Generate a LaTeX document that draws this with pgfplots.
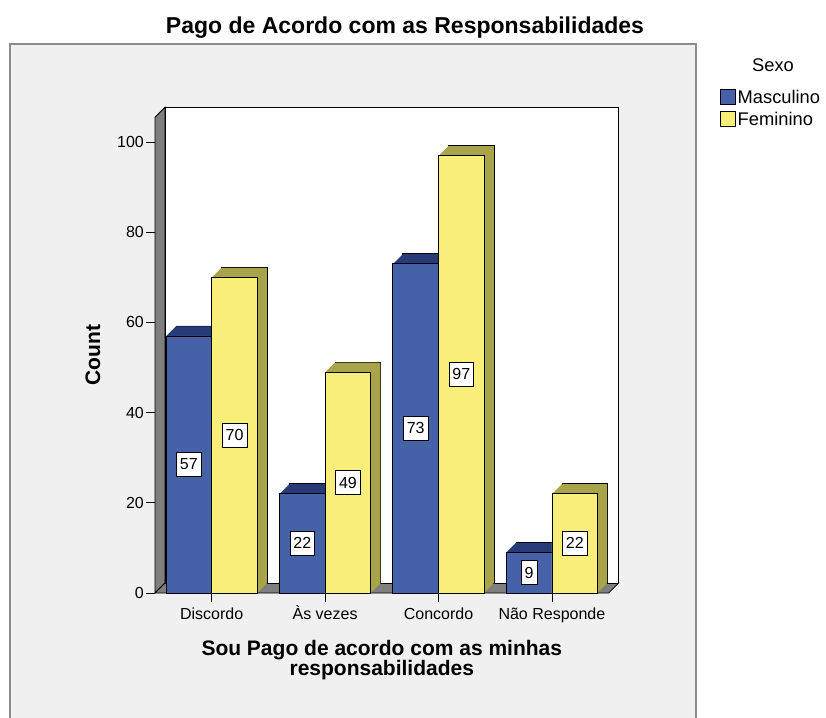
\documentclass[border=0pt]{standalone}
\usepackage{fontspec}
\setmainfont{Liberation Sans}
\usepackage{pgfplots}
\usepackage{pgfplotstable}
\pgfplotsset{compat=1.18}
\definecolor{blueF}{HTML}{4561A8}
\definecolor{blueD}{HTML}{263B78}
\definecolor{yellowF}{HTML}{F9EE7A}
\definecolor{yellowD}{HTML}{A8A44A}
\definecolor{wallgray}{HTML}{7F7F7F}
\definecolor{panel}{HTML}{F0F0F0}
\definecolor{panelborder}{HTML}{8C8C8C}

\pgfplotstableread{
x y
0 57
1 22
2 73
3 9
}\masc
\pgfplotstableread{
x y
0 70
1 49
2 97
3 22
}\femi

\begin{document}
\begin{tikzpicture}
\path[use as bounding box] (0pt,0pt) rectangle (826pt,717pt);
\fill[panel] (10pt,-5pt) rectangle (696pt,673pt);
\draw[panelborder, line width=2pt] (10pt,-5pt) -- (10pt,673pt) -- (696pt,673pt) -- (696pt,-5pt);
\node[font=\fontsize{23}{27}\selectfont\bfseries, anchor=base] at (405pt,683pt) {Pago de Acordo com as Responsabilidades};
% legend
\node[font=\fontsize{18.3}{21}\selectfont] at (773pt,652pt) {Sexo};
\draw[black, fill=blueF, line width=0.8pt] (720pt,613pt) rectangle (735pt,628pt);
\node[anchor=west, inner sep=1.5pt, font=\fontsize{18.3}{21}\selectfont] at (736pt,620.5pt) {Masculino};
\draw[black, fill=yellowF, line width=0.8pt] (720pt,591pt) rectangle (735pt,606pt);
\node[anchor=west, inner sep=1.5pt, font=\fontsize{18.3}{21}\selectfont] at (736pt,598.5pt) {Feminino};

\begin{axis}[
  at={(155pt,124pt)}, anchor=south west,
  scale only axis, width=453.6pt, height=475.8pt,
  xmin=-0.5, xmax=3.5, ymin=0, ymax=105.5,
  clip=false,
  axis x line=bottom, axis y line=left,
  axis line style={-, draw=none},
  tick align=outside,
  major tick length=9pt,
  tick style={black, line width=0.8pt},
  ytick={0,20,40,60,80,100},
  xtick={0,1,2,3},
  xticklabels={Discordo, Às vezes, Concordo, Não Responde},
  /pgf/number format/assume math mode=true,
  ticklabel style={font=\fontsize{16}{19}\selectfont},
  xticklabel style={text height=12pt, text depth=3pt, inner sep=1pt, yshift=-4pt},
  yticklabel style={inner sep=2pt},
  xlabel={Sou Pago de acordo com as minhas\\responsabilidades},
  xlabel style={at={(axis description cs:0.5,-0.1408)}, anchor=center, align=center, font=\fontsize{21}{20}\selectfont\bfseries},
  ylabel={Count},
  ylabel style={at={(axis description cs:-0.1367,0.5)}, anchor=center, font=\fontsize{21}{25}\selectfont\bfseries},
]
% left wall
\draw[black, fill=wallgray, line width=0.8pt] (axis cs:-0.5,0) -- (axis cs:-0.5,105.5) -- ([shift={(10pt,10pt)}]axis cs:-0.5,105.5) -- ([shift={(10pt,10pt)}]axis cs:-0.5,0) -- cycle;
% floor
\draw[black, fill=wallgray, line width=0.8pt] (axis cs:-0.5,0) -- (axis cs:3.5,0) -- ([shift={(10pt,10pt)}]axis cs:3.5,0) -- ([shift={(10pt,10pt)}]axis cs:-0.5,0) -- cycle;
% back wall
\draw[black, fill=white, line width=0.8pt] ([shift={(10pt,10pt)}]axis cs:-0.5,0) rectangle ([shift={(10pt,10pt)}]axis cs:3.5,105.5);

% Masculino: extrusion
\addplot[ybar, bar width=0.403, bar shift=-0.2015, fill=blueD, draw=black, line width=0.8pt, forget plot, xshift=10pt, yshift=10pt] table[x=x,y=y] {\masc};
\pgfplotsinvokeforeach{2,...,20}{
  \addplot[ybar, bar width=0.403, bar shift=-0.2015, fill=blueD, draw=none, forget plot, xshift={(21-#1)*0.5pt}, yshift={(21-#1)*0.5pt}] table[x=x,y=y] {\masc};
}
\addplot[ybar, bar width=0.403, bar shift=-0.2015, fill=blueF, draw=black, line width=0.8pt,
  visualization depends on={rawy \as \rawy},
  nodes near coords,
  every node near coord/.append style={anchor=center, draw=black, fill=white, line width=0.6pt, text=black, inner xsep=3.5pt, inner ysep=0pt, minimum height=24pt, font=\fontsize{16}{19}\selectfont, xshift=-22.85pt, yshift={-2.255pt*\rawy}}
  ] table[x=x,y=y] {\masc};

% Feminino: extrusion
\addplot[ybar, bar width=0.403, bar shift=0.2015, fill=yellowD, draw=black, line width=0.8pt, forget plot, xshift=10pt, yshift=10pt] table[x=x,y=y] {\femi};
\pgfplotsinvokeforeach{2,...,20}{
  \addplot[ybar, bar width=0.403, bar shift=0.2015, fill=yellowD, draw=none, forget plot, xshift={(21-#1)*0.5pt}, yshift={(21-#1)*0.5pt}] table[x=x,y=y] {\femi};
}
\addplot[ybar, bar width=0.403, bar shift=0.2015, fill=yellowF, draw=black, line width=0.8pt,
  visualization depends on={rawy \as \rawy},
  nodes near coords,
  every node near coord/.append style={anchor=center, draw=black, fill=white, line width=0.6pt, text=black, inner xsep=3.5pt, inner ysep=0pt, minimum height=24pt, font=\fontsize{16}{19}\selectfont, xshift=22.85pt, yshift={-2.255pt*\rawy}}
  ] table[x=x,y=y] {\femi};
\end{axis}
\end{tikzpicture}
\end{document}
